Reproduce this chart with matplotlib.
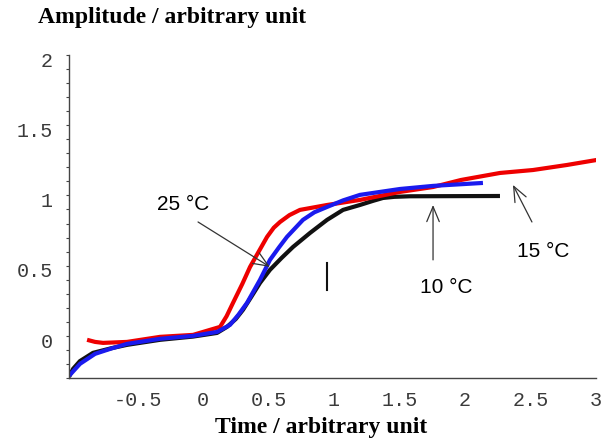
import matplotlib
matplotlib.use("Agg")
import matplotlib.pyplot as plt
from matplotlib.ticker import MultipleLocator
from matplotlib.transforms import ScaledTranslation

# Response curves at three temperatures (time, amplitude)
t10 = [-1.023, -0.992, -0.940, -0.840, -0.700, -0.580, -0.328, -0.076, 0.107, 0.183,
       0.250, 0.305, 0.370, 0.435, 0.511, 0.600, 0.687, 0.817, 0.947, 1.069, 1.198,
       1.300, 1.374, 1.460, 1.580, 2.267]
a10 = [-0.292, -0.235, -0.180, -0.121, -0.088, -0.064, -0.028, -0.005, 0.021, 0.064,
       0.120, 0.185, 0.280, 0.377, 0.470, 0.555, 0.633, 0.733, 0.826, 0.897, 0.932,
       0.962, 0.982, 0.990, 0.994, 0.996]

t25 = [-1.023, -0.939, -0.824, -0.700, -0.580, -0.328, -0.076, 0.107, 0.206, 0.270,
       0.336, 0.435, 0.511, 0.580, 0.641, 0.763, 0.850, 0.947, 1.070, 1.198, 1.504,
       1.756, 2.137]
a25 = [-0.285, -0.199, -0.128, -0.090, -0.057, -0.021, 0.000, 0.028, 0.078, 0.150,
       0.235, 0.399, 0.541, 0.630, 0.705, 0.826, 0.880, 0.918, 0.965, 1.004, 1.046,
       1.068, 1.089]

t15 = [-0.885, -0.824, -0.763, -0.580, -0.328, -0.076, 0.130, 0.180, 0.229, 0.300,
       0.359, 0.489, 0.540, 0.588, 0.660, 0.740, 0.947, 1.198, 1.504, 1.756, 1.969,
       2.267, 2.519, 2.779, 3.008]
a15 = [-0.028, -0.043, -0.050, -0.043, -0.007, 0.007, 0.064, 0.140, 0.235, 0.370,
       0.491, 0.705, 0.770, 0.811, 0.860, 0.897, 0.932, 0.968, 1.025, 1.060, 1.110,
       1.160, 1.181, 1.217, 1.253]

xticks = [-0.5, 0, 0.5, 1, 1.5, 2, 2.5, 3]
xticklabels = ["-0.5", "0", "0.5", "1", "1.5", "2", "2.5", "3"]
yticks = [0, 0.5, 1, 1.5, 2]
yticklabels = ["0", "0.5", "1", "1.5", "2"]

fig = plt.figure(figsize=(6.07, 4.41), dpi=100)
ax = fig.add_axes([69 / 607, 63 / 441, (596 - 69) / 607, (378 - 55) / 441])

style = dict(lw=3.0, solid_capstyle="butt", solid_joinstyle="round")
ax.plot(t10, a10, color="#111111", **style)
ax.plot(t15, a15, color="#ee0000", **style)
ax.plot(t25, a25, color="#1a1aee", **style)

ax.set_xlim(-1.023, 3.0)
ax.set_ylim(-0.30, 2.0)

for s in ("top", "right"):
    ax.spines[s].set_visible(False)
for s in ("left", "bottom"):
    ax.spines[s].set_color("#444444")
    ax.spines[s].set_linewidth(1.0)

mono = "Liberation Mono"
ax.set_xticks(xticks)
ax.set_xticklabels(xticklabels, family=mono, fontsize=14.5, color="#3a3a3a")
ax.set_yticks(yticks)
ax.set_yticklabels(yticklabels, family=mono, fontsize=14.5, color="#3a3a3a")
ax.yaxis.set_minor_locator(MultipleLocator(0.1))
ax.tick_params(axis="x", length=0, pad=9)
ax.tick_params(axis="y", which="both", direction="out", length=2.5, width=0.8,
               color="#444444", pad=9)
shift = ScaledTranslation(0, -3 / 72, fig.dpi_scale_trans)
for lab in ax.get_yticklabels():
    lab.set_transform(lab.get_transform() + shift)

fig.text(38 / 607, 1 - 18 / 441, "Amplitude / arbitrary unit", family="Liberation Serif",
         weight="bold", fontsize=17, ha="left", va="center")
fig.text(321 / 607, 1 - 427 / 441, "Time / arbitrary unit", family="Liberation Serif",
         weight="bold", fontsize=17, ha="center", va="center")

arrow = dict(arrowstyle="->,head_length=0.72,head_width=0.3", color="#333333", lw=0.9,
             shrinkA=0, shrinkB=0)
lab_font = dict(family="Liberation Sans", fontsize=15, ha="center", va="center")

ax.text(-0.153, 0.932, "25 °C", **lab_font)
ax.annotate("", xy=(0.511, 0.491), xytext=(-0.038, 0.811), arrowprops=arrow, fontsize=15)

ax.text(1.855, 0.342, "10 °C", **lab_font)
ax.annotate("", xy=(1.756, 0.932), xytext=(1.756, 0.541), arrowprops=arrow, fontsize=15)

ax.text(2.595, 0.598, "15 °C", **lab_font)
ax.annotate("", xy=(2.366, 1.075), xytext=(2.511, 0.811), arrowprops=arrow, fontsize=15)

# short vertical marker below the curves
ax.plot([0.947, 0.947], [0.327, 0.520], color="#111111", lw=1.5)

fig.savefig("out.png", dpi=100)
